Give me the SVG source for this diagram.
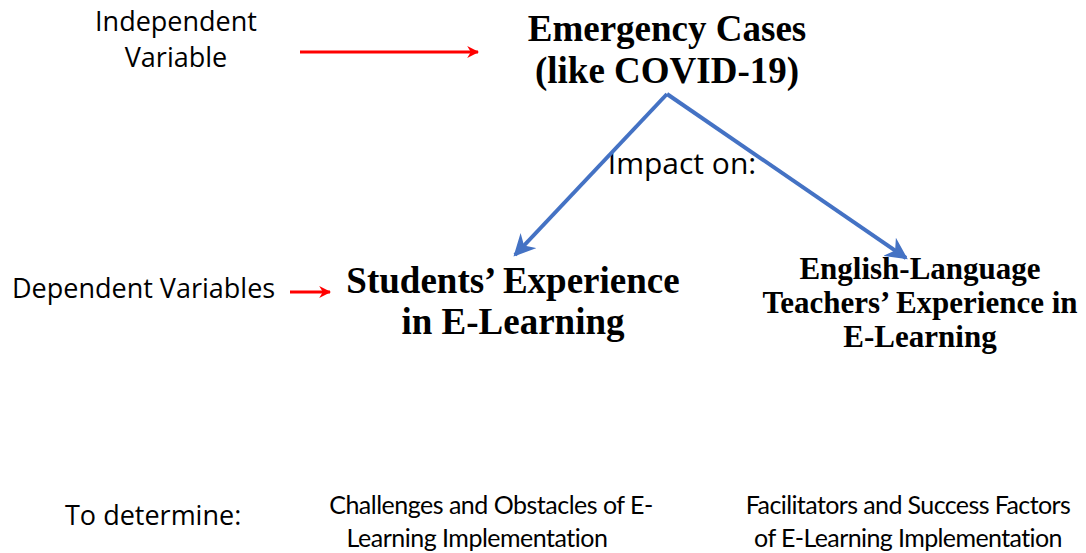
<svg xmlns="http://www.w3.org/2000/svg" width="1086" height="553" viewBox="0 0 1086 553">
<style>
.sans{font-family:"Open Sans","Noto Sans",sans-serif;fill:#000}
.cond{font-family:Lato,"Open Sans",sans-serif;fill:#000}
.serif{font-family:"Liberation Serif","Times New Roman",serif;font-weight:bold;fill:#000}
.red{stroke:#ff0000;stroke-width:3;fill:none}
.blue{stroke:#4472c4;stroke-width:4;fill:none}
</style>
<defs>
<marker id="ar" viewBox="0 0 10 10" refX="9" refY="5" markerWidth="4" markerHeight="4" orient="auto" markerUnits="strokeWidth"><path d="M0,0 L10,5 L0,10 L3,5 Z" fill="#ff0000"/></marker>
<marker id="ab" viewBox="0 0 10 10" refX="9" refY="5" markerWidth="5.5" markerHeight="5.5" orient="auto" markerUnits="strokeWidth"><path d="M0,0 L10,5 L0,10 L3,5 Z" fill="#4472c4"/></marker>
</defs>
<g id="independent-label"><text class="sans" font-size="27" text-anchor="middle"><tspan x="176" y="31">Independent</tspan><tspan x="176" y="67">Variable</tspan></text></g>
<g id="emergency"><text class="serif" font-size="37" text-anchor="middle"><tspan x="667" y="41">Emergency Cases</tspan><tspan x="667" y="83">(like COVID-19)</tspan></text></g>
<g id="impact-label"><text class="sans" font-size="30" text-anchor="middle" x="682" y="174">Impact on:</text></g>
<g id="dependent-label"><text class="sans" font-size="27" x="12" y="298">Dependent Variables</text></g>
<g id="students"><text class="serif" font-size="37" text-anchor="middle"><tspan x="513" y="293">Students’ Experience</tspan><tspan x="513" y="334">in E-Learning</tspan></text></g>
<g id="teachers"><text class="serif" font-size="31" text-anchor="middle"><tspan x="920" y="279">English-Language</tspan><tspan x="920" y="313">Teachers’ Experience in</tspan><tspan x="920" y="347">E-Learning</tspan></text></g>
<g id="determine-label"><text class="sans" font-size="27" x="65" y="525">To determine:</text></g>
<g id="challenges"><text class="cond" font-size="25" text-anchor="middle" letter-spacing="-0.5"><tspan x="491" y="514">Challenges and Obstacles of E-</tspan><tspan x="477" y="547">Learning Implementation</tspan></text></g>
<g id="facilitators"><text class="cond" font-size="25" text-anchor="middle" letter-spacing="-0.6"><tspan x="908" y="514">Facilitators and Success Factors</tspan><tspan x="908" y="547">of E-Learning Implementation</tspan></text></g>
<g id="connectors">
<line class="red" x1="300" y1="52" x2="478" y2="52" marker-end="url(#ar)"/>
<line class="red" x1="290" y1="292" x2="330" y2="292" marker-end="url(#ar)"/>
<line class="blue" x1="667" y1="94" x2="515" y2="255" marker-end="url(#ab)"/>
<line class="blue" x1="667" y1="94" x2="906" y2="258" marker-end="url(#ab)"/>
</g>
</svg>
